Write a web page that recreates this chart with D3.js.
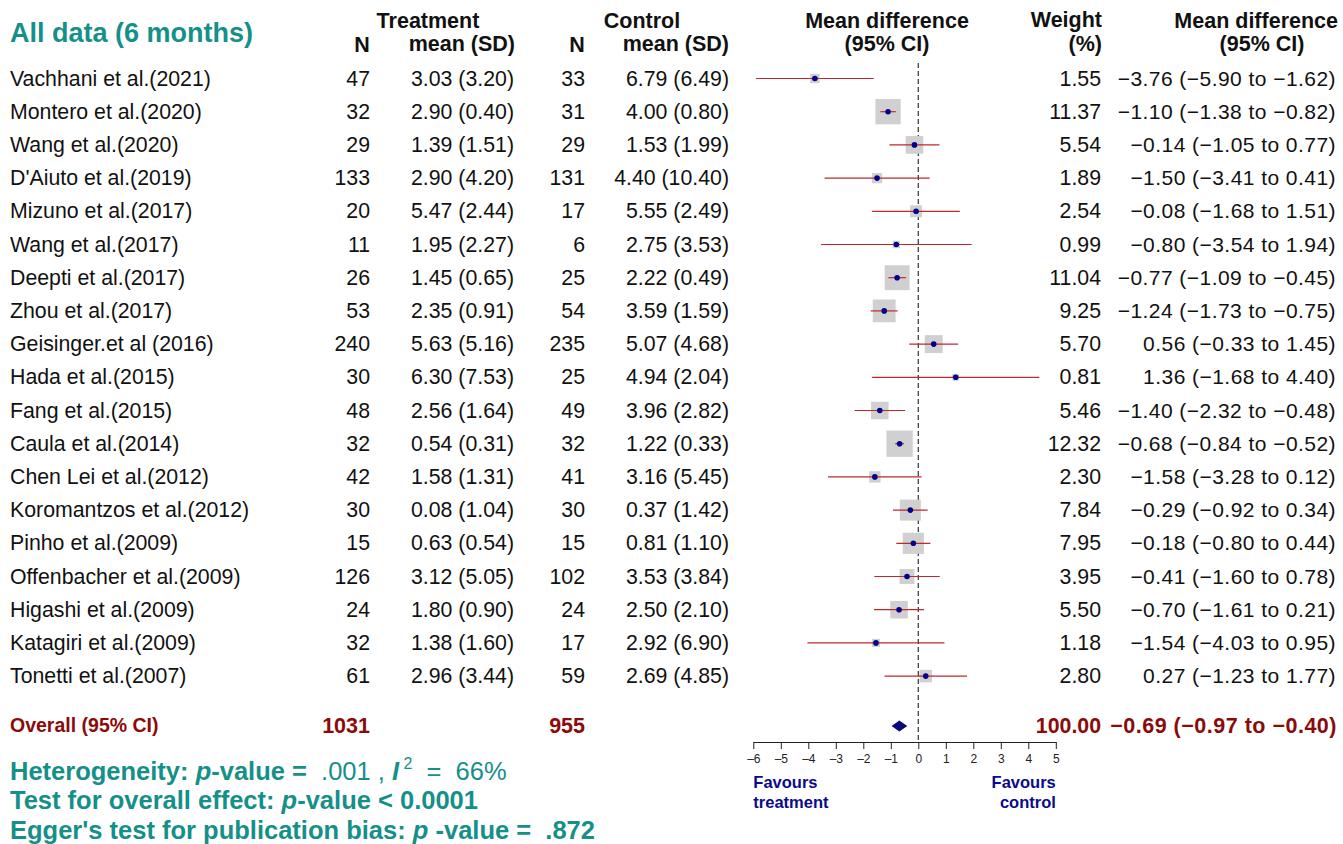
<!DOCTYPE html>
<html lang="en">
<head>
<meta charset="UTF-8">
<script src="https://d3js.org/d3.v7.min.js"></script>
<title>Forest plot</title>
<style>
  body { margin: 0; background: #fff; }
  svg text { font-family: "Liberation Sans", Arial, sans-serif; white-space: pre; }
</style>
</head>
<body>
<div id="chart"></div>
<script>
const studies = ["Vachhani et al.(2021)", "Montero et al.(2020)", "Wang et al.(2020)", "D'Aiuto et al.(2019)",
  "Mizuno et al.(2017)", "Wang et al.(2017)", "Deepti et al.(2017)", "Zhou et al.(2017)", "Geisinger.et al (2016)",
  "Hada et al.(2015)", "Fang et al.(2015)", "Caula et al.(2014)", "Chen Lei et al.(2012)", "Koromantzos et al.(2012)",
  "Pinho et al.(2009)", "Offenbacher et al.(2009)", "Higashi et al.(2009)", "Katagiri et al.(2009)", "Tonetti et al.(2007)"];
const nT    = [47, 32, 29, 133, 20, 11, 26, 53, 240, 30, 48, 32, 42, 30, 15, 126, 24, 32, 61];
const meanT = [3.03, 2.90, 1.39, 2.90, 5.47, 1.95, 1.45, 2.35, 5.63, 6.30, 2.56, 0.54, 1.58, 0.08, 0.63, 3.12, 1.80, 1.38, 2.96];
const sdT   = [3.20, 0.40, 1.51, 4.20, 2.44, 2.27, 0.65, 0.91, 5.16, 7.53, 1.64, 0.31, 1.31, 1.04, 0.54, 5.05, 0.90, 1.60, 3.44];
const nC    = [33, 31, 29, 131, 17, 6, 25, 54, 235, 25, 49, 32, 41, 30, 15, 102, 24, 17, 59];
const meanC = [6.79, 4.00, 1.53, 4.40, 5.55, 2.75, 2.22, 3.59, 5.07, 4.94, 3.96, 1.22, 3.16, 0.37, 0.81, 3.53, 2.50, 2.92, 2.69];
const sdC   = [6.49, 0.80, 1.99, 10.40, 2.49, 3.53, 0.49, 1.59, 4.68, 2.04, 2.82, 0.33, 5.45, 1.42, 1.10, 3.84, 2.10, 6.90, 4.85];
const weight = [1.55, 11.37, 5.54, 1.89, 2.54, 0.99, 11.04, 9.25, 5.70, 0.81, 5.46, 12.32, 2.30, 7.84, 7.95, 3.95, 5.50, 1.18, 2.80];
const md    = [-3.76, -1.10, -0.14, -1.50, -0.08, -0.80, -0.77, -1.24, 0.56, 1.36, -1.40, -0.68, -1.58, -0.29, -0.18, -0.41, -0.70, -1.54, 0.27];
const lo    = [-5.90, -1.38, -1.05, -3.41, -1.68, -3.54, -1.09, -1.73, -0.33, -1.68, -2.32, -0.84, -3.28, -0.92, -0.80, -1.60, -1.61, -4.03, -1.23];
const hi    = [-1.62, -0.82, 0.77, 0.41, 1.51, 1.94, -0.45, -0.75, 1.45, 4.40, -0.48, -0.52, 0.12, 0.34, 0.44, 0.78, 0.21, 0.95, 1.77];
const overall = { nT: 1031, nC: 955, weight: 100.00, md: -0.69, lo: -0.97, hi: -0.40 };
const axisTicks = [-6, -5, -4, -3, -2, -1, 0, 1, 2, 3, 4, 5];

const W = 1343, H = 844;
const teal = "#159089", darkRed = "#8b0a0a", navy = "#0a0a8c";
const svg = d3.select("#chart").append("svg").attr("width", W).attr("height", H);

const fmt = d3.format(".2f");
const m = v => fmt(v).replace("-", "\u2013");

// row positions
const y = d3.scaleLinear().domain([0, 1]).range([78.5, 111.7]);
const x = d3.scaleLinear().domain([-6, 5]).range([753.3, 1055.8]);
const axisY = 742;

// title and headers
svg.append("text").attr("x", 10).attr("y", 42).attr("font-size", 27).attr("font-weight", "bold")
   .attr("fill", teal).text("All data (6 months)");

function hdr(tx, ty, t, anchor) {
  svg.append("text").attr("x", tx).attr("y", ty).attr("font-size", 21.5).attr("font-weight", "bold")
     .attr("text-anchor", anchor).attr("fill", "#111").text(t);
}
hdr(428, 28, "Treatment", "middle");
hdr(362, 52, "N", "middle");
hdr(515, 51, "mean (SD)", "end");
hdr(642, 28, "Control", "middle");
hdr(577, 52, "N", "middle");
hdr(729, 51, "mean (SD)", "end");
hdr(887, 28, "Mean difference", "middle");
hdr(887, 51, "(95% CI)", "middle");
hdr(1102, 27, "Weight", "end");
hdr(1102, 51, "(%)", "end");
hdr(1338, 28, "Mean difference", "end");
hdr(1262, 51, "(95% CI)", "middle");

// study rows text
const rows = svg.append("g").attr("font-size", 21.3).attr("fill", "#111");
studies.forEach((s, i) => {
  const ty = y(i) + 7;
  rows.append("text").attr("x", 10).attr("y", ty).text(s);
  rows.append("text").attr("x", 370).attr("y", ty).attr("text-anchor", "end").text(nT[i]);
  rows.append("text").attr("x", 514).attr("y", ty).attr("text-anchor", "end").text(`${fmt(meanT[i])} (${fmt(sdT[i])})`);
  rows.append("text").attr("x", 585).attr("y", ty).attr("text-anchor", "end").text(nC[i]);
  rows.append("text").attr("x", 729).attr("y", ty).attr("text-anchor", "end").text(`${fmt(meanC[i])} (${fmt(sdC[i])})`);
  rows.append("text").attr("x", 1101).attr("y", ty).attr("text-anchor", "end").text(fmt(weight[i]));
  rows.append("text").attr("x", 1336).attr("y", ty).attr("text-anchor", "end")
      .attr("font-size", 21).attr("letter-spacing", 0.45)
      .text(`${m(md[i])} (${m(lo[i])} to ${m(hi[i])})`);
});

// zero line
svg.append("line").attr("x1", x(0)).attr("x2", x(0)).attr("y1", 63).attr("y2", axisY)
   .attr("stroke", "#333").attr("stroke-width", 1.2).attr("stroke-dasharray", "5,3");

// boxes, CI lines and points
const plot = svg.append("g");
studies.forEach((s, i) => {
  const sz = 7.5 * Math.sqrt(weight[i]);
  plot.append("rect").attr("x", x(md[i]) - sz / 2).attr("y", y(i) - sz / 2)
      .attr("width", sz).attr("height", sz).attr("fill", "#d0d0d0");
  plot.append("line").attr("x1", x(lo[i])).attr("x2", x(hi[i])).attr("y1", y(i)).attr("y2", y(i))
      .attr("stroke", "#c0282d").attr("stroke-width", 1.2);
  plot.append("circle").attr("cx", x(md[i])).attr("cy", y(i)).attr("r", 2.8).attr("fill", "#00008b");
});

// overall diamond
const oy = y(19.5);
plot.append("polygon")
    .attr("points", [[x(overall.lo), oy], [x(overall.md), oy - 5.5], [x(overall.hi), oy], [x(overall.md), oy + 5.5]].join(" "))
    .attr("fill", "#0a0a7a");

const ov = svg.append("g").attr("font-weight", "bold").attr("fill", darkRed);
ov.append("text").attr("x", 10).attr("y", oy + 6).attr("font-size", 19.5).text("Overall (95% CI)");
ov.append("text").attr("x", 370).attr("y", oy + 7).attr("text-anchor", "end").attr("font-size", 21.5).text(overall.nT);
ov.append("text").attr("x", 585).attr("y", oy + 7).attr("text-anchor", "end").attr("font-size", 21.5).text(overall.nC);
ov.append("text").attr("x", 1101).attr("y", oy + 7).attr("text-anchor", "end").attr("font-size", 21.3).text(fmt(overall.weight));
ov.append("text").attr("x", 1337).attr("y", oy + 7).attr("text-anchor", "end").attr("font-size", 21.5).attr("letter-spacing", 0.5)
  .text(`${m(overall.md)} (${m(overall.lo)} to ${m(overall.hi)})`);

// axis
const ax = svg.append("g").attr("transform", `translate(0,${axisY})`)
  .call(d3.axisBottom(x).tickValues(axisTicks).tickSize(7).tickSizeOuter(0).tickFormat(d => String(d).replace("-", "\u2013")));
ax.select(".domain").attr("stroke", "#222");
ax.selectAll(".tick line").attr("stroke", "#222");
ax.selectAll("text").attr("font-size", 12).attr("font-family", "Liberation Sans, Arial, sans-serif").attr("fill", "#222").attr("dy", "0.9em");

const fav = svg.append("g").attr("font-size", 16.5).attr("font-weight", "bold").attr("fill", navy);
fav.append("text").attr("x", x(-6)).attr("y", 788).text("Favours");
fav.append("text").attr("x", x(-6)).attr("y", 808).text("treatment");
fav.append("text").attr("x", x(5)).attr("y", 788).attr("text-anchor", "end").text("Favours");
fav.append("text").attr("x", x(5)).attr("y", 808).attr("text-anchor", "end").text("control");

// footer stats
const st = svg.append("g").attr("font-size", 25.5).attr("font-weight", "bold").attr("fill", teal);
const t1 = st.append("text").attr("x", 10).attr("y", 780);
t1.append("tspan").text("Heterogeneity: ");
t1.append("tspan").attr("font-style", "italic").text("p");
t1.append("tspan").text("-value = ");
t1.append("tspan").attr("font-weight", "normal").text(" .001 , ");
t1.append("tspan").attr("font-style", "italic").text("I");
t1.append("tspan").attr("font-weight", "normal").attr("font-size", 16).attr("dy", -11).text(" 2");
t1.append("tspan").attr("font-weight", "normal").attr("dy", 11).text("  =  66%");
const t2 = st.append("text").attr("x", 10).attr("y", 809);
t2.append("tspan").text("Test for overall effect: ");
t2.append("tspan").attr("font-style", "italic").text("p");
t2.append("tspan").text("-value < 0.0001");
const t3 = st.append("text").attr("x", 10).attr("y", 839);
t3.append("tspan").text("Egger's test for publication bias: ");
t3.append("tspan").attr("font-style", "italic").text("p");
t3.append("tspan").text(" -value =  .872");
</script>
</body>
</html>
